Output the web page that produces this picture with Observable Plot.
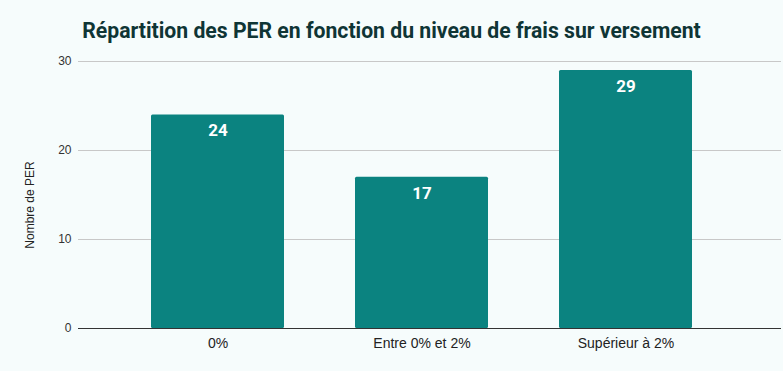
<!DOCTYPE html>
<html>
<head>
<meta charset="utf-8">
<script src="https://cdn.jsdelivr.net/npm/d3@7"></script>
<script src="https://cdn.jsdelivr.net/npm/@observablehq/plot@0.6"></script>
<style>
  html, body { margin: 0; padding: 0; background: #f6fcfc; }
  #wrap { position: relative; width: 783px; height: 371px; overflow: hidden; }
  #title { position: absolute; left: 0; top: 18px; width: 783px; text-align: center;
    font-family: Roboto, "Liberation Sans", sans-serif; font-weight: 700; font-size: 21.2px; color: #0f3535; }
  #chart { position: absolute; left: 0; top: 0; }
</style>
</head>
<body>
<div id="wrap">
  <div id="chart"></div>
  <div id="title">Répartition des PER en fonction du niveau de frais sur versement</div>
</div>
<script>
const categories = ["0%", "Entre 0% et 2%", "Supérieur à 2%"];
const values = [24, 17, 29];
const yTicks = [0, 10, 20, 30];
const yLabel = "Nombre de PER";

const data = categories.map((c, i) => ({category: c, value: values[i]}));

const chart = Plot.plot({
  width: 783,
  height: 371,
  marginLeft: 78,
  marginRight: 2,
  marginTop: 61,
  marginBottom: 43,
  style: {background: "transparent", fontFamily: "'Liberation Sans', Arial, sans-serif", color: "#222"},
  x: {domain: categories, padding: 0.35, paddingOuter: 0.39, align: 0.45, label: null},
  y: {domain: [0, 30], ticks: yTicks, label: null},
  marks: [
    Plot.ruleY(yTicks.filter(d => d > 0), {stroke: "#c8c8c8", strokeWidth: 1}),
    Plot.barY(data, {x: "category", y: "value", fill: "#0b8380", rx: 1.5}),
    Plot.ruleY([0], {stroke: "#333", strokeWidth: 1}),
    Plot.text(data, {x: "category", y: "value", text: d => String(d.value), dy: 16, fill: "white",
      fontWeight: "bold", fontSize: 17, fontFamily: "Roboto, sans-serif"}),
    Plot.axisY({ticks: yTicks, tickSize: 0, tickPadding: 7, fontSize: 12, fill: "#333", label: null}),
    Plot.axisX({tickSize: 0, tickPadding: 10, fontSize: 14, fill: "#222", label: null}),
    Plot.text([yLabel], {frameAnchor: "left", textAnchor: "middle", dx: -48, dy: 10, rotate: -90, fontSize: 12, fill: "#222"})
  ]
});
document.getElementById("chart").appendChild(chart);
</script>
</body>
</html>
